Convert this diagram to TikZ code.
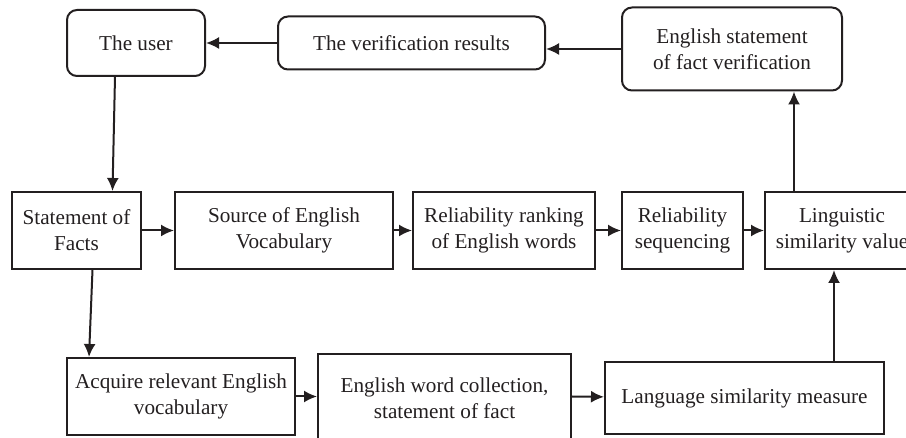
\documentclass[tikz,border=0pt]{standalone}
\usepackage{fontspec}
\setmainfont{Liberation Serif}
\usetikzlibrary{arrows.meta, positioning, calc}
\definecolor{ink}{HTML}{231F20}

\begin{document}
\begin{tikzpicture}[>={Latex[length=6.5pt,width=6pt]}, color=ink, line width=1pt, every node/.style={font=\fontsize{10.6}{13}\selectfont}]
% Define styles for boxes and rounded boxes
\tikzstyle{box} = [draw, rectangle, align=center, minimum height=38.5pt, inner sep=2pt]
\tikzstyle{rbox} = [box, rounded corners=5pt]

\useasboundingbox (0,0) rectangle (453pt,-219pt);

% Top row
\node [rbox, minimum width=69pt, minimum height=33pt] (user) at (68pt,-21.5pt) {The user};
\node [rbox, right of=user, node distance=137.75pt, minimum width=133.5pt, minimum height=26.5pt] (results) {The verification results};
\node [rbox, right of=results, node distance=160.25pt, yshift=-3pt, minimum width=110pt, minimum height=41.5pt] (verify) {English statement\\of fact verification};

% Middle row
\node [box, minimum width=64.5pt] (facts) at (38.25pt,-115.25pt) {Statement of\\Facts};
\node [box, right of=facts, node distance=103.75pt, minimum width=109pt] (source) {Source of English\\Vocabulary};
\node [box, right of=source, node distance=110pt, minimum width=91pt] (ranking) {Reliability ranking\\of English words};
\node [box, right of=ranking, node distance=89.25pt, minimum width=60.5pt] (sequencing) {Reliability\\sequencing};
\node [box, right of=sequencing, node distance=79.75pt, minimum width=77pt] (linguistic) {Linguistic\\similarity value};

% Bottom row
\node [box, minimum width=114pt] (acquire) at (90.5pt,-198.25pt) {Acquire relevant English\\vocabulary};
\node [box, right of=acquire, node distance=131.75pt, minimum width=126.5pt, minimum height=44pt, yshift=-1pt] (collection) {English word collection,\\statement of fact};
\node [box, right of=collection, node distance=150pt, minimum width=139.5pt, minimum height=36pt] (measure) {Language similarity measure};

% Draw edges
\draw[->] (results.west) -- (results.west -| user.east);
\draw[->] (verify.west) -- (verify.west -| results.east);
\draw[->] ([xshift=-10.5pt]user.south) -- ([xshift=18pt]facts.north);
\draw[->] (facts) -- (source);
\draw[->] (source) -- (ranking);
\draw[->] (ranking) -- (sequencing);
\draw[->] (sequencing) -- (linguistic);
\draw[->] ([xshift=-24pt]linguistic.north) -- ([xshift=-24pt]linguistic.north |- verify.south);
\draw[->] ([xshift=8pt]facts.south) -- ([xshift=-46pt]acquire.north);
\draw[->] (acquire) -- (acquire -| collection.west);
\draw[->] (acquire -| collection.east) -- (measure);
\draw[->] ([xshift=44.75pt]measure.north) -- ([xshift=44.75pt]measure.north |- linguistic.south);

\end{tikzpicture}
\end{document}
